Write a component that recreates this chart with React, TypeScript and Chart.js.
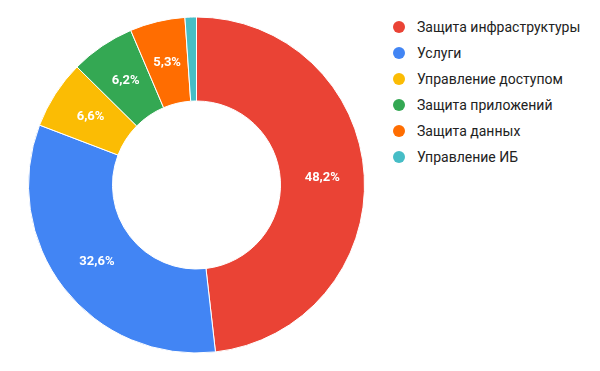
import React, { useEffect, useRef } from "react";
import { Chart, registerables } from "chart.js";

Chart.register(...registerables);

const categories = [
  "Защита инфраструктуры",
  "Услуги",
  "Управление доступом",
  "Защита приложений",
  "Защита данных",
  "Управление ИБ",
];
const values = [48.2, 32.6, 6.6, 6.2, 5.3, 1.1];
const colors = ["#EA4335", "#4285F4", "#FBBC04", "#34A853", "#FF6D01", "#46BDC6"];

const fmt = (v: number) => v.toFixed(1).replace(".", ",") + "%";

const labelPlugin = {
  id: "sliceLabels",
  afterDatasetsDraw(chart: any) {
    const ctx = chart.ctx;
    const meta = chart.getDatasetMeta(0);
    ctx.save();
    ctx.fillStyle = "#ffffff";
    ctx.font = "bold 13px Roboto, Arial, sans-serif";
    ctx.textAlign = "center";
    ctx.textBaseline = "middle";
    meta.data.forEach((arc: any, i: number) => {
      const v = values[i];
      if (v < 5) return;
      const p = arc.tooltipPosition();
      ctx.fillText(fmt(v), p.x, p.y);
    });
    ctx.restore();
  },
};

export default function App() {
  const ref = useRef<HTMLCanvasElement | null>(null);
  useEffect(() => {
    if (!ref.current) return;
    const chart = new Chart(ref.current, {
      type: "doughnut",
      data: {
        labels: categories,
        datasets: [
          {
            data: values,
            backgroundColor: colors,
            borderColor: "#ffffff",
            borderWidth: 1,
          },
        ],
      },
      options: {
        responsive: false,
        animation: false,
        radius: 168,
        cutout: "50%",
        layout: { padding: 0 },
        plugins: {
          legend: { display: false },
          tooltip: { enabled: false },
        },
      } as any,
      plugins: [labelPlugin],
    });
    return () => chart.destroy();
  }, []);

  return (
    <div
      style={{
        position: "fixed",
        left: 0,
        top: 0,
        width: 600,
        height: 371,
        background: "#ffffff",
        fontFamily: "Roboto, Arial, sans-serif",
      }}
    >
      <canvas
        ref={ref}
        width={393}
        height={370}
        style={{ position: "absolute", left: 0, top: 0, width: 393, height: 370 }}
      />
      {categories.map((c, i) => (
        <div
          key={c}
          style={{
            position: "absolute",
            left: 393,
            top: 27 + 26 * i - 10,
            height: 20,
            display: "flex",
            alignItems: "center",
            fontSize: 14,
            color: "#222222",
            whiteSpace: "nowrap",
          }}
        >
          <span
            style={{
              display: "inline-block",
              width: 12,
              height: 12,
              borderRadius: "50%",
              background: colors[i],
              marginRight: 12,
            }}
          />
          {c}
        </div>
      ))}
    </div>
  );
}
